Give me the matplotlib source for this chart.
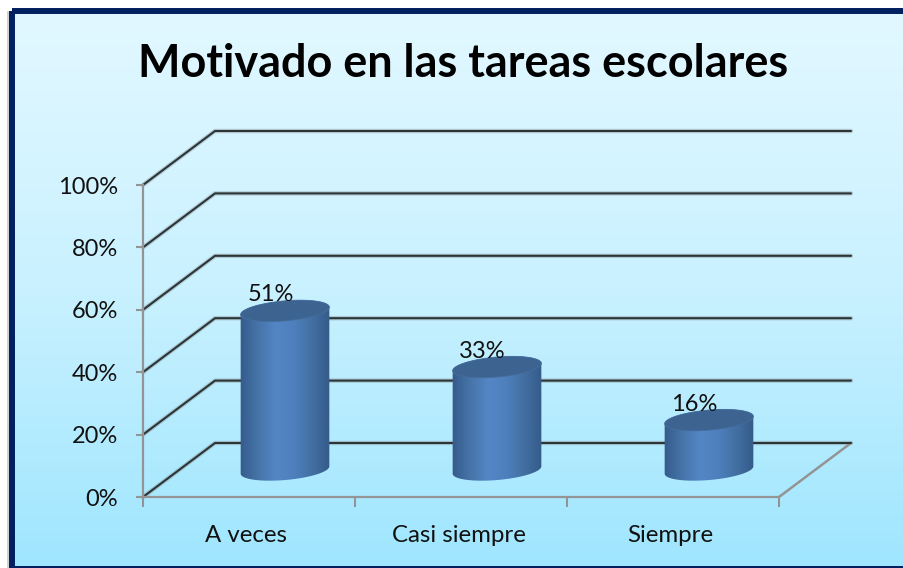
import matplotlib
matplotlib.use('Agg')
import matplotlib.pyplot as plt
import numpy as np
from matplotlib.colors import LinearSegmentedColormap
from matplotlib.patches import Polygon, Rectangle
from matplotlib.transforms import ScaledTranslation

plt.rcParams['font.family'] = ['Lato', 'DejaVu Sans']

title = 'Motivado en las tareas escolares'
categories = ['A veces', 'Casi siempre', 'Siempre']
values = [51, 33, 16]
y_ticks = [0, 20, 40, 60, 80, 100]

W, H = 904, 568
px_cat = 636 / 3.0  # pixels per category
px_pct = 312 / 100.0  # pixels per percent
depth_x = 72 / px_cat
depth_y = 54 / px_pct

fig = plt.figure(figsize=(W / 100.0, H / 100.0), dpi=100, facecolor='white')

# background panel and frame
bg = fig.add_axes([0, 0, 1, 1])
bg.set_xlim(0, W)
bg.set_ylim(H, 0)
bg.axis('off')
sky = LinearSegmentedColormap.from_list('sky', ['#e2f8ff', '#c9f1ff', '#9fe6fe'])
bg.imshow(np.linspace(0, 1, 256).reshape(-1, 1), cmap=sky, aspect='auto', extent=(12, W + 10, 568, 11), zorder=1)
bg.set_xlim(0, W)
bg.set_ylim(H, 0)
bg.plot([8, 8], [12, H], color='#c8c8c8', lw=1.2, zorder=2)
bg.add_patch(Rectangle((12, 11), W, 557.5, fill=False, ec='#002060', lw=4.3, zorder=3))

ax = fig.add_axes([143.0 / W, (H - 497.0) / H, 636.0 / W, 312.0 / H])
ax.patch.set_alpha(0)
ax.set_xlim(0, 3)
ax.set_ylim(0, 100)
for s in ['top', 'right']:
    ax.spines[s].set_visible(False)
for s in ['left', 'bottom']:
    ax.spines[s].set_color('#949494')
    ax.spines[s].set_linewidth(1.6)

ax.set_xticks([0, 1, 2, 3])
ax.set_xticklabels([])
ax.set_xticks([0.5, 1.5, 2.5], minor=True)
ax.set_xticklabels(categories, minor=True, fontsize=17.3, color='#111111')
ax.tick_params(axis='x', which='major', length=7, width=1.5, color='#949494')
ax.tick_params(axis='x', which='minor', length=0, pad=20)
# category names sit a little left of the slot centre
for lbl in ax.get_xticklabels(minor=True):
    lbl.set_transform(lbl.get_transform() + ScaledTranslation(-2.5 / 100.0, 0, fig.dpi_scale_trans))
ax.set_yticks(y_ticks)
ax.set_yticklabels(['{}%'.format(v) for v in y_ticks], fontsize=17, color='#111111')
ax.tick_params(axis='y', length=5, width=1.5, color='#949494', pad=13)

# 3d walls, back wall lines have a soft shadow
for v in y_ticks:
    xs = [0, depth_x, 3 + depth_x]
    ys = [v, v + depth_y, v + depth_y]
    ax.plot(xs, ys, color='#8a9aa0', lw=3.2, alpha=0.45, clip_on=False, zorder=2, solid_capstyle='round')
    ax.plot(xs, ys, color='#2c3436', lw=1.5, clip_on=False, zorder=2.1, solid_capstyle='round')
ax.plot([3, 3 + depth_x], [0, depth_y], color='#949494', lw=1.8, clip_on=False, zorder=2)

shade = LinearSegmentedColormap.from_list('shade', ['#34598a', '#4674a8', '#5486c6', '#4f80bd', '#426fa2', '#345a88'])


def ellipse_points(cx, cy, t):
    # tilted ellipse, worked out in pixels and then put back into data units
    a, b, tilt = 44.5, 10.0, np.radians(5)
    ex = a * np.cos(t) * np.cos(tilt) - b * np.sin(t) * np.sin(tilt)
    ey = a * np.cos(t) * np.sin(tilt) + b * np.sin(t) * np.cos(tilt)
    return np.column_stack([cx + ex / px_cat, cy + ey / px_pct])


for i, v in enumerate(values):
    cx = i + 0.5 + depth_x / 2
    cy = depth_y / 2
    lower = ellipse_points(cx, cy, np.linspace(np.pi, 2 * np.pi, 60))
    upper = ellipse_points(cx, cy + v, np.linspace(0, np.pi, 60))
    body = Polygon(np.vstack([lower, upper]), closed=True, fc='none', ec='none', zorder=3)
    ax.add_patch(body)
    half = 46.0 / px_cat
    im = ax.imshow(np.linspace(0, 1, 128).reshape(1, -1), cmap=shade, aspect='auto',
                   extent=(cx - half, cx + half, cy - 10, cy + v + 10), zorder=3)
    im.set_clip_path(body)
    top = Polygon(ellipse_points(cx, cy + v, np.linspace(0, 2 * np.pi, 120)), closed=True,
                  fc='#3d6390', ec='#456e9e', lw=0.6, zorder=4)
    ax.add_patch(top)
    ax.annotate('{}%'.format(v), (cx, cy + v), xytext=(-10.5, 11.5), textcoords='offset points',
                ha='center', va='center', fontsize=17, color='#111111', zorder=5)

ax.set_xlim(0, 3)
ax.set_ylim(0, 100)

fig.text(463.0 / W, 1 - 64.0 / H, title, ha='center', va='center', fontsize=32.4, fontweight='bold', color='black')

fig.savefig('out.png', dpi=100)
